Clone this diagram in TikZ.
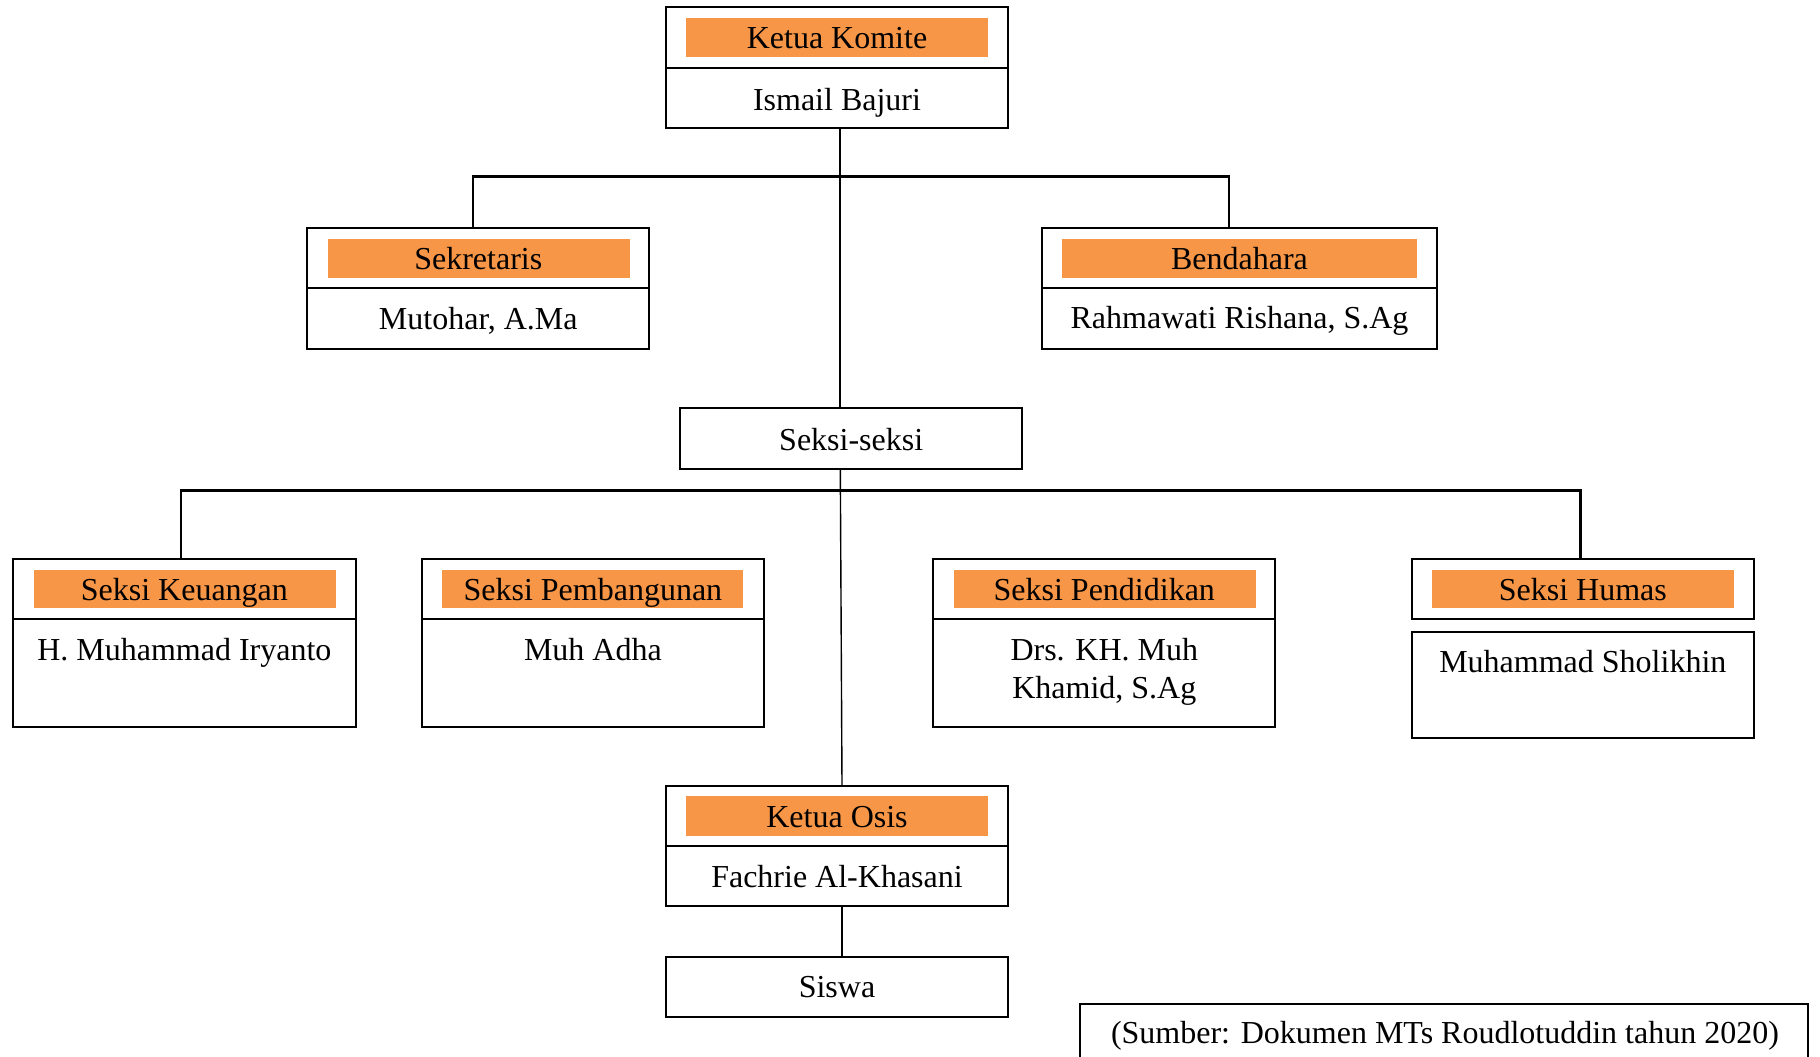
\documentclass[tikz,border=0pt]{standalone}
\usepackage{fontspec}
\setmainfont{Liberation Serif}
\definecolor{bandorange}{RGB}{247,150,70}
\tikzset{
  box/.style={draw=black, line width=1pt, inner sep=0pt, outer sep=0pt, fill=white},
  band/.style={fill=bandorange, inner sep=0pt, outer sep=0pt},
  txt/.style={font=\fontsize{16pt}{18.85pt}\selectfont, anchor=base, inner sep=0pt, align=center},
  thickline/.style={line width=1.15pt},
  busline/.style={line width=1.3pt},
  thinline/.style={line width=0.7pt}
}
\begin{document}
\begin{tikzpicture}[x=0.5pt,y=-0.5pt]
\useasboundingbox (0,0) rectangle (1820,1056);
\clip (0,0) rectangle (1820,1056);
\fill[white] (0,0) rectangle (1820,1056);

% connector reference coordinates
\coordinate (spine) at (840.3,0);
\coordinate (spineb) at (842,0);
\coordinate (busL) at (473,176.7);
\coordinate (busR) at (1229,176.7);
\coordinate (busbL) at (181.1,490.7);
\coordinate (busbR) at (1580.2,490.7);

% Ketua Komite
\node[box, minimum width=171.3pt, minimum height=30.5pt] (kkh) at (837,37.8) {};
\node[box, minimum width=171.3pt, minimum height=29.7pt] (kkn) at (837,98) {};
\node[band, minimum width=150.85pt, minimum height=19.5pt] (kkb) at (836.8,37.8) {};
\node[txt] (kkt) at (837,48.2) {Ketua Komite};
\node[txt] (kknt) at (837,110.8) {Ismail Bajuri};

% Sekretaris
\node[box, minimum width=171.3pt, minimum height=29.7pt] (sekh) at (478,258) {};
\node[box, minimum width=171.3pt, minimum height=30.5pt] (sekn) at (478,318.2) {};
\node[band, minimum width=151.15pt, minimum height=19.65pt] (sekb) at (478.8,258.7) {};
\node[txt] (sekt) at (478.3,269.8) {Sekretaris};
\node[txt] (seknt) at (478.3,329.2) {Mutohar, A.Ma};

% Bendahara
\node[box, minimum width=197.8pt, minimum height=29.7pt] (benh) at (1239.5,258) {};
\node[box, minimum width=197.8pt, minimum height=30.35pt] (benn) at (1239.5,318.7) {};
\node[band, minimum width=177.5pt, minimum height=19.65pt] (benb) at (1239.2,258.7) {};
\node[txt] (bent) at (1239.5,269.8) {Bendahara};
\node[txt] (bennt) at (1239.5,328.2) {Rahmawati Rishana, S.Ag};

% Seksi-seksi
\node[box, minimum width=171.15pt, minimum height=30.35pt] (sks) at (851.2,438.7) {};
\node[txt] (skst) at (851.2,450.8) {Seksi-seksi};

% Seksi Keuangan
\node[box, minimum width=171.4pt, minimum height=30pt] (keuh) at (184.2,589) {};
\node[box, minimum width=171.4pt, minimum height=53.85pt] (keun) at (184.2,672.8) {};
\node[band, minimum width=150.75pt, minimum height=19.15pt] (keub) at (185,589.2) {};
\node[txt] (keut) at (184.4,600.5) {Seksi Keuangan};
\node[txt] (keunt) at (184.4,660.5) {H. Muhammad Iryanto};

% Seksi Pembangunan
\node[box, minimum width=170.95pt, minimum height=30pt] (pemh) at (592.9,589) {};
\node[box, minimum width=170.95pt, minimum height=53.85pt] (pemn) at (592.9,672.8) {};
\node[band, minimum width=150.8pt, minimum height=19.15pt] (pemb) at (592.6,589.2) {};
\node[txt] (pemt) at (592.9,600.5) {Seksi Pembangunan};
\node[txt] (pemnt) at (592.9,660.5) {Muh Adha};

% Seksi Pendidikan
\node[box, minimum width=171.05pt, minimum height=30pt] (pndh) at (1104.3,589) {};
\node[box, minimum width=171.05pt, minimum height=53.85pt] (pndn) at (1104.3,672.8) {};
\node[band, minimum width=150.95pt, minimum height=19.15pt] (pndb) at (1104.9,589.2) {};
\node[txt] (pndt) at (1104.3,600.5) {Seksi Pendidikan};
\node[txt] (pndnt) at (1104.3,698.2) {Drs. KH. Muh\\Khamid, S.Ag};

% Seksi Humas
\node[box, minimum width=170.75pt, minimum height=30.15pt] (humh) at (1582.8,589.2) {};
\node[box, minimum width=170.75pt, minimum height=53.3pt] (humn) at (1582.8,685) {};
\node[band, minimum width=151pt, minimum height=19.15pt] (humb) at (1583,589.2) {};
\node[txt] (humt) at (1582.8,600.5) {Seksi Humas};
\node[txt] (humnt) at (1582.8,672.5) {Muhammad Sholikhin};

% Ketua Osis
\node[box, minimum width=171.3pt, minimum height=30.15pt] (osh) at (837,815.9) {};
\node[box, minimum width=171.3pt, minimum height=30pt] (osn) at (837,876) {};
\node[band, minimum width=150.85pt, minimum height=19.85pt] (osb) at (836.8,815.9) {};
\node[txt] (ost) at (837,827.2) {Ketua Osis};
\node[txt] (osnt) at (837,887.5) {Fachrie Al-Khasani};

% Siswa
\node[box, minimum width=171.3pt, minimum height=30pt] (sis) at (837,986.7) {};
\node[txt] (sist) at (837,997.5) {Siswa};

% Source
\node[box, minimum width=363.8pt, minimum height=32.9pt] (src) at (1444.2,1037.2) {};
\node[txt] (srct) at (1445,1043.2) {(Sumber: Dokumen MTs Roudlotuddin tahun 2020)};

% connectors
\draw[thickline] (spine |- kkn.south) -- (spine |- sks.north);
\draw[busline] (busL |- sekh.north) -- (busL) -- (busR) -- (busR |- benh.north);
\draw[busline] (busbL |- keuh.north) -- (busbL) -- (busbR) -- (busbR |- humh.north);
\draw[thinline] (spine |- sks.south) -- (spineb |- osh.north);
\draw[thinline] (spineb |- osn.south) -- (spineb |- sis.north);
\end{tikzpicture}
\end{document}
